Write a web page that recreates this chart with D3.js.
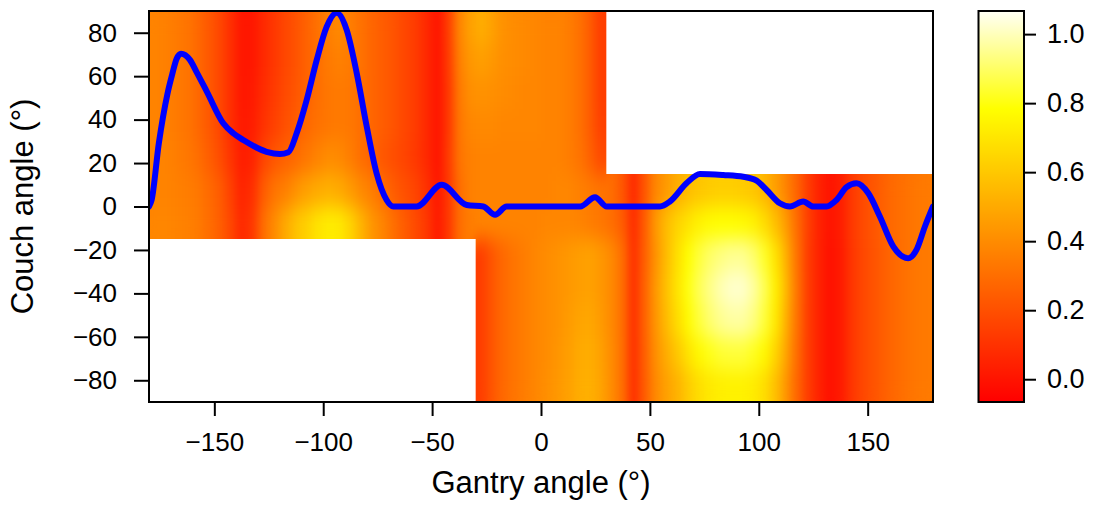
<!DOCTYPE html>
<html>
<head>
<meta charset="utf-8">
<script src="https://cdn.jsdelivr.net/npm/d3@7"></script>
<style>
  body { margin: 0; background: #fff; }
  svg { display: block; font-family: "Liberation Sans", Arial, Helvetica, sans-serif; }
  .axis text { fill: #000; }
  .axis line { stroke: #000; stroke-width: 2; }
</style>
</head>
<body>
<div id="chart"></div>
<script>
// --- Data ---
const _ = null; // masked (white) cells

// grid edges: 5° gantry columns, 15° couch bands
const gantryEdges = d3.range(-180, 181, 5);
const couchEdges = [90, 75, 60, 45, 30, 15, 0, -15, -30, -45, -60, -75, -90];

// one row per couch band (top to bottom), one value per gantry column
const heatRows = [
  [.37,.36,.34,.32,.28,.23,.17,.09,.01,.01, .07,.12,.17,.21,.26,.31,.36,.39,.35,.31, .27,.24,.21,.17,.13,.07,.00,.14,.38,.47, .51,.47,.42,.40,.39,.38,.37,.37,.35,.31, .24,.14,
   _,_,_,_,_,_,_,_,_,_, _,_,_,_,_,_,_,_,_,_, _,_,_,_,_,_,_,_,_,_],
  [.37,.36,.34,.32,.28,.23,.17,.09,.01,.01, .07,.12,.17,.21,.26,.30,.34,.36,.34,.31, .27,.24,.21,.17,.13,.07,.00,.13,.36,.44, .46,.44,.41,.40,.39,.38,.37,.37,.35,.31, .24,.14,
   _,_,_,_,_,_,_,_,_,_, _,_,_,_,_,_,_,_,_,_, _,_,_,_,_,_,_,_,_,_],
  [.37,.36,.34,.32,.28,.23,.17,.09,.01,.02, .08,.13,.18,.22,.26,.30,.33,.34,.33,.30, .27,.24,.21,.17,.13,.07,.00,.12,.34,.41, .42,.41,.40,.39,.38,.38,.37,.37,.35,.31, .24,.14,
   _,_,_,_,_,_,_,_,_,_, _,_,_,_,_,_,_,_,_,_, _,_,_,_,_,_,_,_,_,_],
  [.37,.36,.34,.32,.28,.23,.17,.09,.02,.03, .10,.15,.20,.24,.28,.31,.33,.34,.33,.30, .27,.24,.21,.17,.13,.07,.00,.12,.33,.38, .39,.39,.38,.38,.38,.38,.37,.37,.35,.31, .24,.15,
   _,_,_,_,_,_,_,_,_,_, _,_,_,_,_,_,_,_,_,_, _,_,_,_,_,_,_,_,_,_],
  [.37,.37,.35,.33,.30,.25,.19,.11,.03,.05, .16,.22,.26,.29,.33,.37,.40,.39,.35,.30, .26,.22,.19,.16,.12,.07,.00,.13,.32,.36, .37,.37,.37,.37,.37,.37,.37,.37,.35,.32, .26,.18,
   _,_,_,_,_,_,_,_,_,_, _,_,_,_,_,_,_,_,_,_, _,_,_,_,_,_,_,_,_,_],
  [.37,.37,.36,.35,.33,.29,.24,.15,.05,.09, .24,.32,.36,.42,.47,.50,.52,.50,.45,.39, .35,.29,.24,.20,.16,.10,.01,.12,.30,.36, .37,.37,.37,.37,.37,.37,.37,.38,.38,.36, .34,.32,
   .30,.22,.07,.22,.38,.45,.51,.56,.59,.61, .62,.62,.61,.59,.54,.46,.37,.27,.14,.05, .00,.03,.12,.18,.22,.26,.29,.31,.33,.34],
  [.38,.38,.37,.36,.34,.30,.25,.17,.07,.12, .30,.40,.50,.58,.63,.69,.72,.71,.64,.53, .43,.37,.30,.24,.18,.12,.02,.12,.30,.35, .37,.37,.37,.37,.37,.37,.38,.38,.38,.37, .35,.33,
   .30,.24,.08,.24,.44,.56,.64,.69,.74,.77, .78,.78,.77,.74,.67,.57,.45,.30,.15,.05, .00,.03,.12,.18,.22,.26,.29,.31,.33,.34],
  [_,_,_,_,_,_,_,_,_,_, _,_,_,_,_,_,_,_,_,_, _,_,_,_,_,_,_,_,_,_,
   .14,.22,.28,.32,.35,.38,.40,.42,.44,.46, .47,.44,.39,.30,.09,.25,.42,.56,.68,.78, .85,.90,.93,.95,.95,.91,.83,.69,.52,.32, .14,.05,-.01,.02,.11,.17,.21,.25,.28,.31, .33,.34],
  [_,_,_,_,_,_,_,_,_,_, _,_,_,_,_,_,_,_,_,_, _,_,_,_,_,_,_,_,_,_,
   .14,.22,.28,.32,.35,.38,.40,.42,.44,.46, .47,.44,.39,.30,.09,.26,.44,.58,.70,.80, .88,.94,.99,1.02,1.02,.97,.88,.73,.55,.33, .14,.05,-.01,.02,.11,.17,.21,.25,.28,.31, .33,.34],
  [_,_,_,_,_,_,_,_,_,_, _,_,_,_,_,_,_,_,_,_, _,_,_,_,_,_,_,_,_,_,
   .14,.22,.28,.32,.35,.38,.40,.42,.45,.48, .49,.45,.39,.30,.09,.26,.43,.56,.67,.77, .85,.91,.95,.97,.97,.93,.85,.71,.52,.32, .14,.05,-.01,.02,.11,.17,.21,.25,.28,.31, .33,.34],
  [_,_,_,_,_,_,_,_,_,_, _,_,_,_,_,_,_,_,_,_, _,_,_,_,_,_,_,_,_,_,
   .14,.22,.28,.32,.35,.38,.40,.43,.46,.50, .51,.47,.40,.30,.09,.25,.41,.51,.60,.69, .76,.81,.84,.85,.85,.82,.76,.64,.48,.30, .14,.05,-.01,.02,.11,.17,.21,.25,.28,.31, .33,.34],
  [_,_,_,_,_,_,_,_,_,_, _,_,_,_,_,_,_,_,_,_, _,_,_,_,_,_,_,_,_,_,
   .14,.22,.28,.32,.35,.38,.41,.44,.47,.51, .52,.48,.40,.30,.09,.24,.39,.47,.53,.61, .67,.71,.73,.74,.74,.72,.67,.57,.43,.28, .14,.05,-.01,.02,.11,.17,.21,.25,.28,.31, .33,.34]
];

// blue path (gantry °, couch °)
const pathGantry = [-180,-178.8,-175.5,-171.5,-169.3,-167.3,-165.3,-161.2,-158.2,-153.5,-145.9,-141.3,-136.7,-126,-119.9,-116,-112.2,-107.6,-103,-98.4,-93.8,-89.2,-84.6,-80,-75.5,-70.9,-67.8,-57.1,-45.6,-34.1,-26.5,-21.1,-15.8,18,24.8,30.2,54.6,59.2,66.8,73,83.7,92.9,99,103.6,109.7,114.3,120.4,125,131.1,135.7,140.3,144.9,150.3,155.6,161.8,168.6,172.4,176.3,180];
const pathCouch  = [0,3,29,52,61,68,70.3,67.5,62,53,38.3,33.7,30.6,25.2,24.2,25,33.7,49,67.4,82.8,89.2,81.2,61.3,36.7,15.3,3,0,0,10,0.7,0,-3.8,0,0,4.3,0,0,2.3,10.7,15,14.5,13.7,11.9,7.6,1.5,0,2.3,0,0,3,8.9,10.7,6.1,-4.6,-18.5,-23.8,-20,-9.2,0];

const xTicks = [-150, -100, -50, 0, 50, 100, 150];
const yTicks = [-80, -60, -40, -20, 0, 20, 40, 60, 80];
const barTicks = [0, 0.2, 0.4, 0.6, 0.8, 1.0];
const colorDomain = [-0.066, 1.067];

// --- Layout ---
const W = 1097, H = 514;
const plot = { left: 149, right: 933, top: 11, bottom: 402 };
const bar = { left: 978.5, right: 1024 };

const x = d3.scaleLinear().domain([-180, 180]).range([plot.left, plot.right]);
const y = d3.scaleLinear().domain([-90, 90]).range([plot.bottom, plot.top]);
const barY = d3.scaleLinear().domain(colorDomain).range([plot.bottom, plot.top]);

// R heat.colors: red → yellow (hue), then yellow → white
const tScale = d3.scaleLinear().domain(colorDomain).range([0, 1]).clamp(true);
function heat(v) {
  const t = tScale(v);
  if (t <= 0.75) return d3.hsl(60 * t / 0.75, 1, 0.5).formatHex();
  const b = Math.round(245 * (t - 0.75) / 0.25);
  return d3.rgb(255, 255, b).formatHex();
}

const minus = d => (d < 0 ? "\u2212" + Math.abs(d) : String(d));

const svg = d3.select("#chart").append("svg")
  .attr("width", W).attr("height", H);

const defs = svg.append("defs");

// valid (non-masked) region
defs.append("clipPath").attr("id", "validArea")
  .append("path")
  .attr("d", d3.line()([
    [x(-180), y(90)], [x(30), y(90)], [x(30), y(15)], [x(180), y(15)],
    [x(180), y(-90)], [x(-30), y(-90)], [x(-30), y(-15)], [x(-180), y(-15)]
  ]) + "Z");

defs.append("clipPath").attr("id", "plotArea")
  .append("rect")
  .attr("x", plot.left).attr("y", plot.top)
  .attr("width", plot.right - plot.left).attr("height", plot.bottom - plot.top);

// soft smoothing of the cell grid (edge colours bled, then alpha restored)
const filt = defs.append("filter").attr("id", "smooth")
  .attr("color-interpolation-filters", "sRGB")
  .attr("x", "-5%").attr("y", "-5%").attr("width", "110%").attr("height", "110%");
filt.append("feGaussianBlur").attr("in", "SourceGraphic").attr("stdDeviation", "4 10").attr("result", "b");
filt.append("feComponentTransfer").attr("in", "b")
  .append("feFuncA").attr("type", "linear").attr("slope", 40).attr("intercept", 0);

// --- Heatmap cells ---
const cells = [];
heatRows.forEach((row, r) => {
  row.forEach((v, c) => {
    if (v === null) return;
    cells.push({ g0: gantryEdges[c], g1: gantryEdges[c + 1], c0: couchEdges[r], c1: couchEdges[r + 1], v });
  });
});

svg.append("g").attr("clip-path", "url(#validArea)")
  .append("g").attr("filter", "url(#smooth)")
  .selectAll("rect")
  .data(cells)
  .enter().append("rect")
  .attr("x", d => x(d.g0))
  .attr("y", d => y(d.c0))
  .attr("width", d => x(d.g1) - x(d.g0) + 0.6)
  .attr("height", d => y(d.c1) - y(d.c0) + 0.6)
  .attr("shape-rendering", "crispEdges")
  .attr("fill", d => heat(d.v));

// --- Path ---
svg.append("path")
  .datum(d3.zip(pathGantry, pathCouch))
  .attr("clip-path", "url(#plotArea)")
  .attr("fill", "none")
  .attr("stroke", "#0000ff")
  .attr("stroke-width", 6)
  .attr("stroke-linejoin", "round")
  .attr("stroke-linecap", "round")
  .attr("d", d3.line().x(d => x(d[0])).y(d => y(d[1])).curve(d3.curveMonotoneX));

// --- Axes ---
const xAxis = svg.append("g").attr("class", "axis")
  .attr("transform", `translate(0,${plot.bottom})`)
  .call(d3.axisBottom(x).tickValues(xTicks).tickSize(14).tickPadding(17).tickFormat(minus));
xAxis.select(".domain").remove();
xAxis.selectAll("text").attr("font-size", 26);

const yAxis = svg.append("g").attr("class", "axis")
  .attr("transform", `translate(${plot.left},0)`)
  .call(d3.axisLeft(y).tickValues(yTicks).tickSize(15).tickPadding(17).tickFormat(minus));
yAxis.select(".domain").remove();
yAxis.selectAll("text").attr("font-size", 26);

// plot frame
svg.append("rect")
  .attr("x", plot.left).attr("y", plot.top)
  .attr("width", plot.right - plot.left).attr("height", plot.bottom - plot.top)
  .attr("fill", "none").attr("stroke", "#000").attr("stroke-width", 2);

// titles
svg.append("text")
  .attr("x", (plot.left + plot.right) / 2).attr("y", 493)
  .attr("text-anchor", "middle").attr("font-size", 31)
  .text("Gantry angle (°)");

svg.append("text")
  .attr("transform", `translate(33,${(plot.top + plot.bottom) / 2}) rotate(-90)`)
  .attr("text-anchor", "middle").attr("font-size", 31)
  .text("Couch angle (°)");

// --- Colour bar ---
const grad = defs.append("linearGradient").attr("id", "barGradient")
  .attr("x1", 0).attr("y1", 1).attr("x2", 0).attr("y2", 0);
d3.range(0, 101).forEach(p => {
  const v = colorDomain[0] + (colorDomain[1] - colorDomain[0]) * p / 100;
  grad.append("stop").attr("offset", p + "%").attr("stop-color", heat(v));
});

svg.append("rect")
  .attr("x", bar.left).attr("y", plot.top)
  .attr("width", bar.right - bar.left).attr("height", plot.bottom - plot.top)
  .attr("fill", "url(#barGradient)")
  .attr("stroke", "#000").attr("stroke-width", 2);

const barAxis = svg.append("g").attr("class", "axis")
  .attr("transform", `translate(${bar.right},0)`)
  .call(d3.axisRight(barY).tickValues(barTicks).tickSize(12).tickPadding(11).tickFormat(d3.format(".1f")));
barAxis.select(".domain").remove();
barAxis.selectAll("text").attr("font-size", 27);
</script>
</body>
</html>
